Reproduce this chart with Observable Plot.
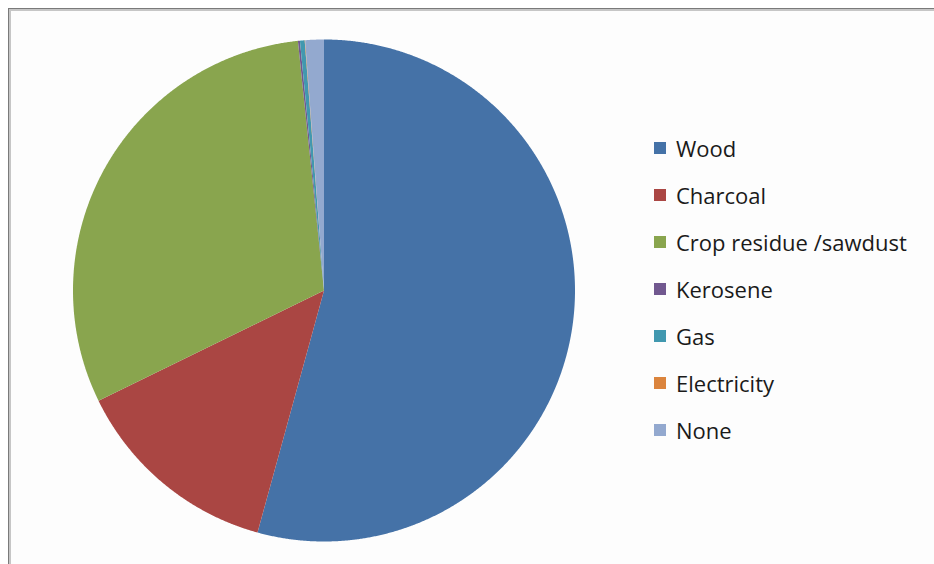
<!DOCTYPE html>
<html><head><meta charset="utf-8">
<script src="https://cdn.jsdelivr.net/npm/d3@7"></script>
<script src="https://cdn.jsdelivr.net/npm/@observablehq/plot@0.6"></script>
<style>
html,body{margin:0;padding:0;background:#fff;font-family:"Open Sans",sans-serif;overflow:hidden}
#wrap{position:relative;width:934px;height:564px;overflow:hidden;background:#fff}
#bg{position:absolute;left:9px;top:9px;width:925px;height:555px;background:#fdfdfd}
#topline{position:absolute;left:8px;top:8px;width:926px;height:1px;background:#7a7a7a}
#topline2{position:absolute;left:9px;top:9px;width:925px;height:2px;background:#c6c6c6}
#leftline{position:absolute;left:8px;top:8px;width:1px;height:556px;background:#7a7a7a}
#leftline2{position:absolute;left:9px;top:9px;width:2px;height:555px;background:#c6c6c6}
#chart{position:absolute;left:0;top:0}
#legend{position:absolute;left:654px;top:134px;display:flex;flex-direction:column;gap:19px}
.row{display:flex;align-items:center;height:28px;font-size:22px;color:#1a1a1a;white-space:nowrap}
.sw{width:12px;height:12px;margin-right:10px;flex:none}
</style></head>
<body>
<div id="wrap"><div id="bg"></div><div id="topline2"></div><div id="leftline2"></div><div id="topline"></div><div id="leftline"></div><div id="chart"></div><div id="legend"></div></div>
<script>
const categories = ["Wood","Charcoal","Crop residue /sawdust","Kerosene","Gas","Electricity","None"];
const shares = [54.3, 13.5, 30.6, 0.13, 0.3, 0.03, 1.2];
const colors = ["#4572A7","#AA4643","#89A54E","#71588F","#4198AF","#DB843D","#93A9CF"];

const arcs = d3.pie().sort(null).value(d => d)(shares);
const points = [];
arcs.forEach((a, i) => {
  const name = categories[i];
  points.push({name, x: 0, y: 0});
  const n = Math.max(2, Math.ceil((a.endAngle - a.startAngle) / (Math.PI / 720)));
  for (let k = 0; k <= n; k++) {
    const t = a.startAngle + (a.endAngle - a.startAngle) * k / n;
    points.push({name, x: Math.sin(t), y: Math.cos(t)});
  }
});

const plot = Plot.plot({
  width: 934, height: 564,
  marginLeft: 72.5, marginRight: 359.5, marginTop: 39, marginBottom: 23,
  x: {domain: [-1, 1], axis: null},
  y: {domain: [-1, 1], axis: null},
  color: {domain: categories, range: colors},
  style: {background: "transparent", overflow: "visible"},
  marks: [
    Plot.line(points, {x: "x", y: "y", z: "name", fill: "name", stroke: "none"})
  ]
});
document.getElementById("chart").appendChild(plot);

const legend = document.getElementById("legend");
categories.forEach((c, i) => {
  const row = document.createElement("div");
  row.className = "row";
  const sw = document.createElement("span");
  sw.className = "sw";
  sw.style.background = colors[i];
  const tx = document.createElement("span");
  tx.textContent = c;
  row.appendChild(sw); row.appendChild(tx);
  legend.appendChild(row);
});
</script>
</body></html>
